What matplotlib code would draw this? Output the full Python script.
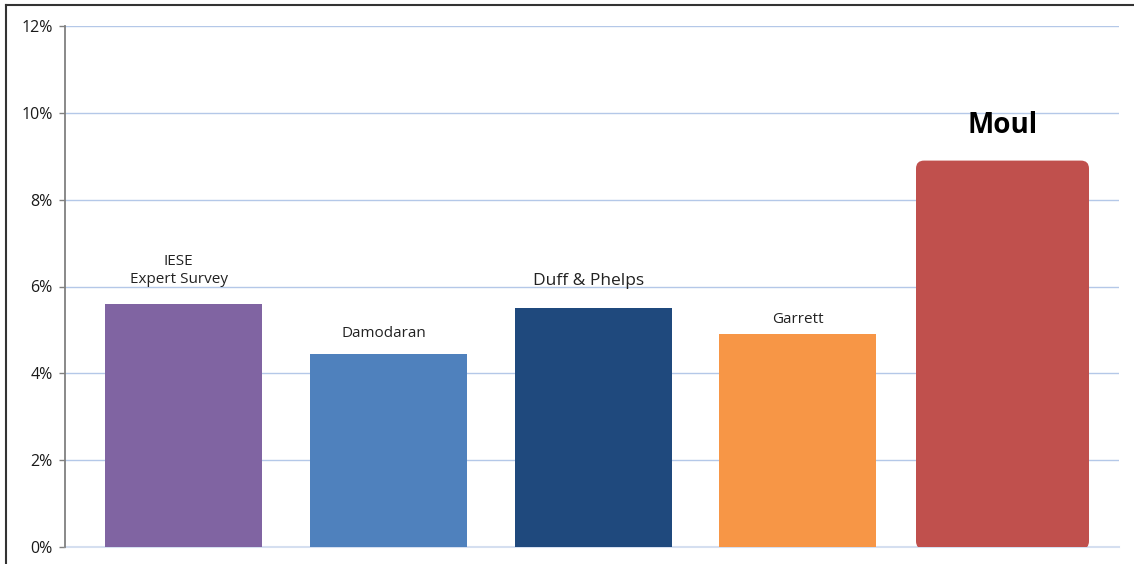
import matplotlib.pyplot as plt
from matplotlib.patches import FancyBboxPatch
from matplotlib.lines import Line2D
from matplotlib.ticker import PercentFormatter

# data
labels = ["IESE\nExpert Survey", "Damodaran", "Duff & Phelps", "Garrett", "Moul"]
values = [5.6, 4.45, 5.5, 4.9, 8.9]
colors = ["#8064A2", "#4F81BD", "#1F497D", "#F79646", "#C0504D"]
widths = [0.767, 0.767, 0.767, 0.767, 0.845]
yticks = [0, 2, 4, 6, 8, 10, 12]

# label styling (size, weight, offset in pixels from bar top)
lab_size = [11, 11, 12.5, 11, 20]
lab_weight = ["normal", "normal", "normal", "normal", "bold"]
lab_off = [(-5, 33), (-4, 20), (-4, 27), (0, 15), (0, 35)]

plt.rcParams["font.family"] = ["Open Sans", "DejaVu Sans"]

fig = plt.figure(figsize=(11.34, 5.64), dpi=100)
ax = fig.add_axes([65/1134, 17/564, 1054/1134, 521/564])

x = list(range(len(values)))
bars = ax.bar(x[:-1], values[:-1], width=widths[:-1], color=colors[:-1], zorder=3)

ax.set_xlim(-0.579, 4.569)
ax.set_ylim(0, 12)

# Moul bar with rounded top corners
xscale = (4.569 + 0.579) / 1054
yscale = 12 / 521
mb = FancyBboxPatch((x[-1] - widths[-1]/2, -0.05), widths[-1], values[-1] + 0.05,
                    boxstyle="round,pad=0,rounding_size=%f" % (8*xscale),
                    mutation_aspect=yscale/xscale,
                    fc=colors[-1], ec="none", zorder=3)
ax.add_patch(mb)

for i in x:
    ax.annotate(labels[i], xy=(i, values[i]), xytext=lab_off[i],
                textcoords="offset pixels", ha="center", va="center",
                fontsize=lab_size[i], fontweight=lab_weight[i],
                color="#000000" if i == 4 else "#222222", linespacing=1.25)

ax.set_yticks(yticks)
ax.yaxis.set_major_formatter(PercentFormatter(decimals=0))
ax.set_xticks([])
ax.tick_params(axis="y", length=4, width=1, color="#808080", labelsize=11.5,
               labelcolor="#1a1a1a", pad=5)
ax.grid(axis="y", color="#B4C8E8", lw=1.0, zorder=0)
# baseline at 0% (lighter, not clipped)
ax.axhline(0, color="#D5DFF0", lw=1.5, clip_on=False, zorder=1)
for s in ["top", "right", "bottom"]:
    ax.spines[s].set_visible(False)
ax.spines["left"].set_color("#808080")
ax.spines["left"].set_linewidth(1.3)
ax.set_axisbelow(True)

# outer frame (left and top)
fig.add_artist(Line2D([6/1134, 6/1134], [0, 1 - 5/564], color="#333333", lw=1.5,
                      transform=fig.transFigure))
fig.add_artist(Line2D([6/1134, 1], [1 - 5/564, 1 - 5/564], color="#333333", lw=1.5,
                      transform=fig.transFigure))

fig.savefig("out.png", dpi=100)
